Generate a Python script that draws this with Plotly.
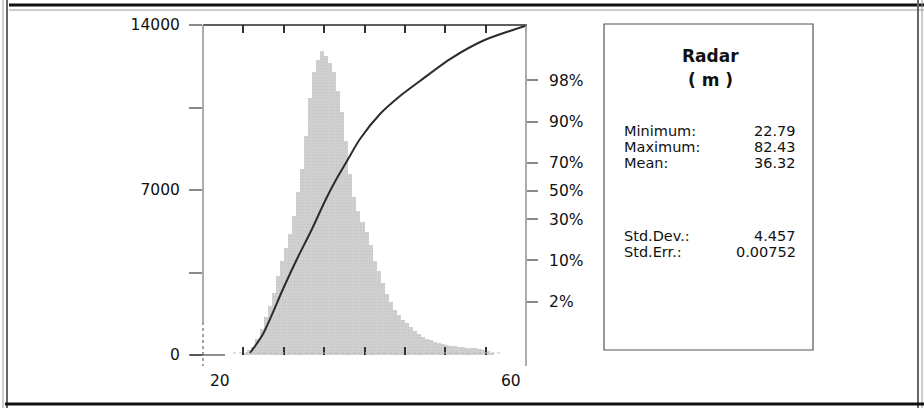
import plotly.graph_objects as go
from statistics import NormalDist

# ---------------- data ----------------
bin_centers = [25.25, 25.75, 26.25, 26.75, 27.25, 27.75, 28.25, 28.75, 29.25, 29.75,
               30.25, 30.75, 31.25, 31.75, 32.25, 32.75, 33.25, 33.75, 34.25, 34.75,
               35.25, 35.75, 36.25, 36.75, 37.25, 37.75, 38.25, 38.75, 39.25, 39.75,
               40.25, 40.75, 41.25, 41.75, 42.25, 42.75, 43.25, 43.75, 44.25, 44.75,
               45.25, 45.75, 46.25, 46.75, 47.25, 47.75, 48.25, 48.75, 49.25, 49.75,
               50.25, 50.75, 51.25, 51.75, 52.25, 52.75, 53.25, 53.75, 54.25, 54.75,
               55.25, 55.75]
bin_counts = [100, 200, 350, 700, 1100, 1600, 2100, 2650, 3350, 4000,
              4550, 5150, 5900, 6900, 7900, 9300, 10900, 12000, 12500, 12900,
              12700, 12400, 12000, 11200, 10300, 9100, 7700, 6700, 6100, 5650,
              5200, 4650, 4000, 3550, 3050, 2600, 2250, 1900, 1700, 1500,
              1370, 1200, 1000, 880, 780, 700, 620, 560, 500, 460,
              425, 395, 370, 350, 330, 310, 295, 280, 260, 220,
              150, 80]
bin_width = 0.5

cdf_x = [25.82, 27.43, 29.91, 31.64, 33.50, 35.11, 36.59, 37.83, 39.44, 41.92,
         44.40, 46.87, 50.59, 54.67, 60.0]
cdf_pct = [0.135, 0.405, 3.48, 10.4, 24.1, 42.7, 59.5, 71.1, 83.2, 92.3,
           96.07, 97.92, 99.27, 99.73, 99.89]

y_tick_vals = [0, 3500, 7000, 10500, 14000]
y_tick_text = ["0", "", "7000", "", "14000"]
pct_tick_vals = [2, 10, 30, 50, 70, 90, 98]
pct_tick_text = ["2%", "10%", "30%", "50%", "70%", "90%", "98%"]
x_minor_ticks = [25, 30, 35, 40, 45, 50, 55]
x_label_vals = [20, 60]
x_label_text = ["20", "60"]

stat_title = "Radar"
stat_unit = "( m )"
stat_names = ["Minimum:", "Maximum:", "Mean:", "Std.Dev.:", "Std.Err.:"]
stat_values = ["22.79", "82.43", "36.32", "4.457", "0.00752"]

# ---------------- layout geometry (pixels) ----------------
W, H = 924, 408
L, R, T, B = 203, 526, 25, 355
FONT = "DejaVu Sans, Verdana, sans-serif"
AX_SIZE = 15.5


def px(x):
    return (x - L) / (R - L)


def py(y):
    return (B - y) / (B - T)


nd = NormalDist()
z_top = (191 - T) / 54.0
z_bot = (191 - B) / 54.0

fig = go.Figure()

fig.add_trace(go.Bar(
    x=bin_centers, y=bin_counts, width=bin_width,
    marker=dict(color="#cdcdcd", line=dict(width=0),
                pattern=dict(shape=".", fgcolor="#b4b4b4", bgcolor="#d0d0d0",
                             size=3, solidity=0.2)),
    showlegend=False, hoverinfo="skip",
))

fig.add_trace(go.Scatter(
    x=cdf_x, y=[nd.inv_cdf(p / 100.0) for p in cdf_pct], yaxis="y2",
    mode="lines", line=dict(color="#2b2b2b", width=2, shape="spline", smoothing=0.7),
    showlegend=False, hoverinfo="skip",
))

fig.update_layout(
    width=W, height=H, autosize=False,
    margin=dict(l=L, r=W - R, t=T, b=H - B, pad=0),
    paper_bgcolor="white", plot_bgcolor="white",
    font=dict(family=FONT, size=AX_SIZE, color="#111"),
    bargap=0,
    xaxis=dict(range=[20, 60], showgrid=False, zeroline=False, showline=False,
               tickvals=x_minor_ticks, ticks="inside", ticklen=8, tickwidth=2,
               tickcolor="#333", mirror="ticks", showticklabels=False),
    yaxis=dict(range=[0, 14000], showgrid=False, zeroline=False, showline=False,
               tickvals=y_tick_vals, ticktext=y_tick_text, ticks="outside",
               ticklen=13, tickwidth=1.5, tickcolor="#8a8a8a",
               tickfont=dict(size=AX_SIZE, color="#111"), ticklabelstandoff=6),
    yaxis2=dict(overlaying="y", side="right", range=[z_bot, z_top],
                showgrid=False, zeroline=False, showline=False,
                tickvals=[nd.inv_cdf(p / 100.0) for p in pct_tick_vals],
                ticktext=pct_tick_text, ticks="outside", ticklen=11,
                tickwidth=1.5, tickcolor="#8a8a8a",
                tickfont=dict(size=AX_SIZE, color="#111"), ticklabelstandoff=8),
)

shapes = []


def hline(x0, x1, y, color, width, dash="solid"):
    shapes.append(dict(type="line", xref="paper", yref="paper",
                       x0=px(x0), x1=px(x1), y0=py(y), y1=py(y),
                       line=dict(color=color, width=width, dash=dash)))


def vline(x, y0, y1, color, width, dash="solid"):
    shapes.append(dict(type="line", xref="paper", yref="paper",
                       x0=px(x), x1=px(x), y0=py(y0), y1=py(y1),
                       line=dict(color=color, width=width, dash=dash)))


# plot frame
hline(L, R + 1, T, "#2a2a2a", 1.6)
vline(L, T, 322, "#8f8f8f", 1.5)
vline(L, 322, 366, "#444", 1, "dot")
hline(190, 225, B, "#222", 1.2)
vline(R, T, 366, "#8f8f8f", 1.5)
hline(233, 503, B - 2, "#bdbdbd", 1, "dot")

# stats box
shapes.append(dict(type="rect", xref="paper", yref="paper",
                   x0=px(604), x1=px(813), y0=py(350), y1=py(24),
                   line=dict(color="#555", width=1.2), fillcolor="rgba(0,0,0,0)"))

# outer scanned frame
vline(3, 0, H, "#9a9a9a", 1)
vline(7, 0, H, "#666", 2)
hline(9, W, 5, "#111", 3)
hline(9, W, 10, "#9a9a9a", 1)
vline(918, 0, H, "#666", 2)
vline(922, 0, H, "#9a9a9a", 1)
hline(5, W, 404, "#111", 3)

fig.update_layout(shapes=shapes)

ann = []
# x labels
ann.append(dict(x=x_label_vals[0], y=py(381), xref="x", yref="paper",
                text=x_label_text[0], showarrow=False, xanchor="left",
                yanchor="middle", xshift=5, font=dict(size=AX_SIZE, color="#111")))
ann.append(dict(x=x_label_vals[1], y=py(381), xref="x", yref="paper",
                text=x_label_text[1], showarrow=False, xanchor="right",
                yanchor="middle", xshift=-3, font=dict(size=AX_SIZE, color="#111")))

# stats text
ann.append(dict(x=px(710), y=py(56), xref="paper", yref="paper",
                text="<b>" + stat_title + "</b>", showarrow=False,
                xanchor="center", yanchor="middle", font=dict(size=17, color="#111")))
ann.append(dict(x=px(710), y=py(80), xref="paper", yref="paper",
                text="<b>" + stat_unit + "</b>", showarrow=False,
                xanchor="center", yanchor="middle", font=dict(size=17, color="#111")))
stat_rows = [131, 147, 163, 236, 252]
for name, val, yy in zip(stat_names, stat_values, stat_rows):
    ann.append(dict(x=px(622), y=py(yy), xref="paper", yref="paper", text=name,
                    showarrow=False, xanchor="left", yanchor="middle",
                    font=dict(size=14.5, color="#111")))
    ann.append(dict(x=px(798), y=py(yy), xref="paper", yref="paper", text=val,
                    showarrow=False, xanchor="right", yanchor="middle",
                    font=dict(size=14.5, color="#111")))

fig.update_layout(annotations=ann)

fig.write_html("out.html", config={"displayModeBar": False},
               post_script="document.body.style.margin='0px';")
